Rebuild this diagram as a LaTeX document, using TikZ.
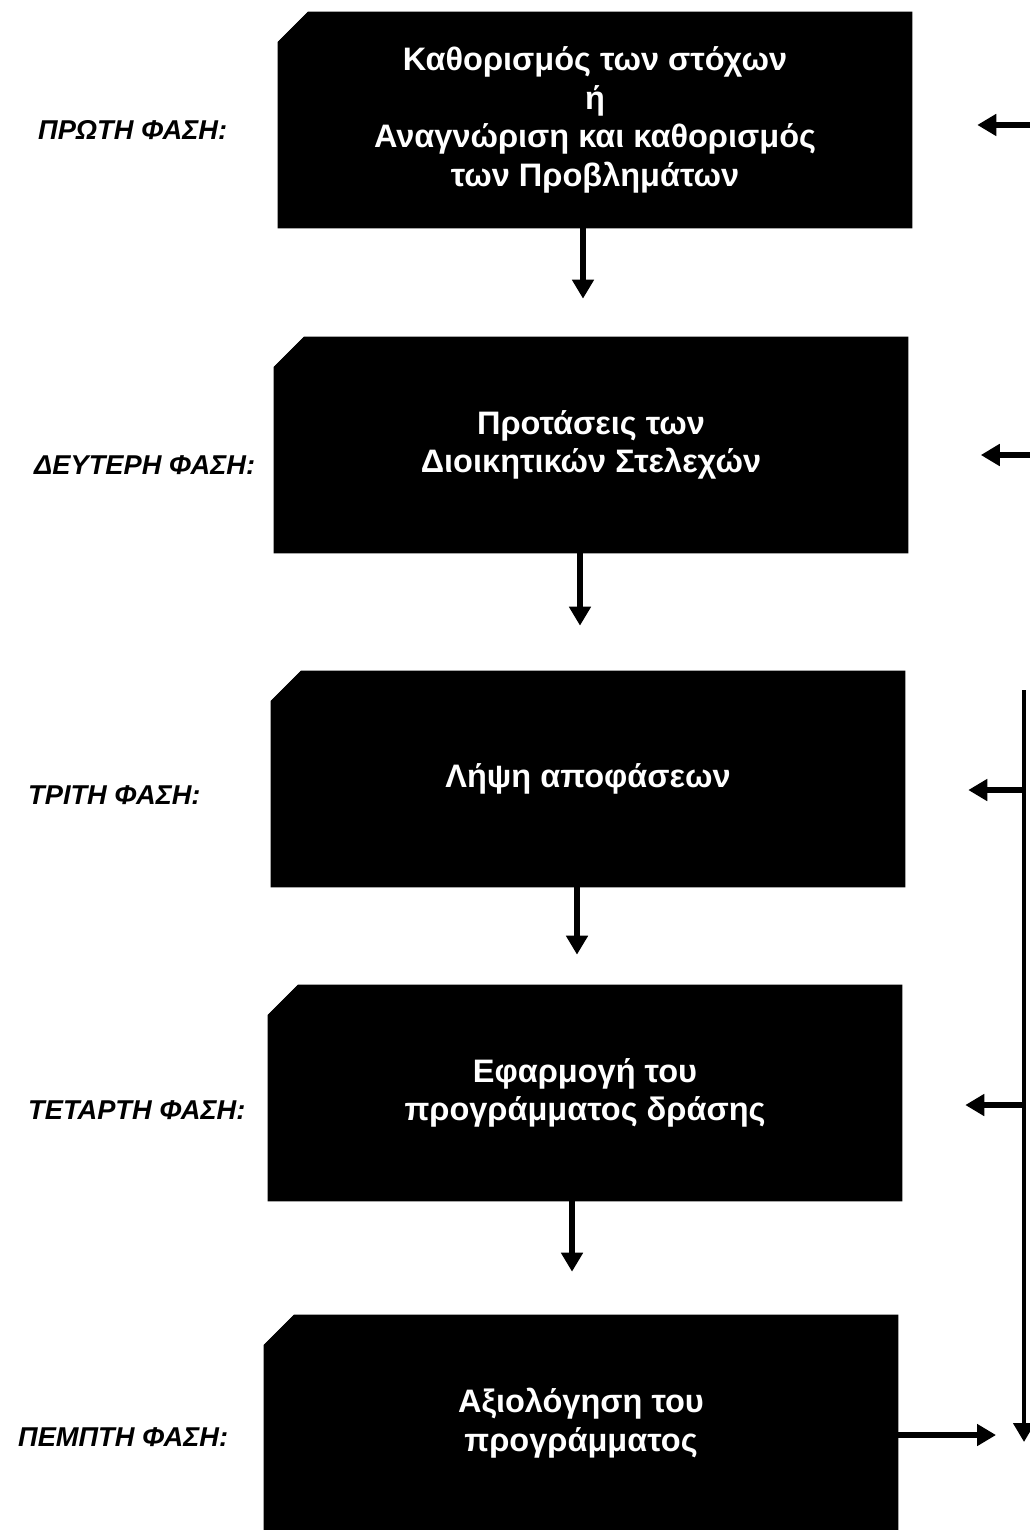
\documentclass[tikz,border=0pt]{standalone}
\usepackage{fontspec}
\setmainfont{Liberation Sans}
\usetikzlibrary{arrows.meta,shapes.misc}

\begin{document}
\begin{tikzpicture}[x=0.02cm,y=-0.02cm,
    phasebox/.style={chamfered rectangle, chamfered rectangle corners=north west,
      chamfered rectangle xsep=0.3cm, chamfered rectangle ysep=0.3cm,
      fill=black, draw=black, text=white, align=center, inner sep=0pt,
      minimum width=12.68cm, minimum height=4.32cm,
      font=\bfseries\fontsize{18.5}{22}\selectfont},
    phaselabel/.style={anchor=west, font=\bfseries\itshape\fontsize{15.5}{17}\selectfont},
    flow/.style={line width=3pt, -{Triangle[width=0.42cm,length=0.38cm]}}]
        \useasboundingbox (0,0) rectangle (1030,1530);
        % Phases
        \node[phasebox] (b1) at (595,120) {Καθορισμός των στόχων\\ή\\Αναγνώριση και καθορισμός\\των Προβλημάτων};
        \node[phasebox] (b2) at (591,445) {Προτάσεις των\\Διοικητικών Στελεχών};
        \node[phasebox] (b3) at (588,779) {Λήψη αποφάσεων};
        \node[phasebox] (b4) at (585,1093) {Εφαρμογή του\\προγράμματος δράσης};
        \node[phasebox] (b5) at (581,1423) {Αξιολόγηση του\\προγράμματος};
        % Labels
        \node[phaselabel] (l1) at (32,130) {ΠΡΩΤΗ ΦΑΣΗ:};
        \node[phaselabel] (l2) at (28,465) {ΔΕΥΤΕΡΗ ΦΑΣΗ:};
        \node[phaselabel] (l3) at (22,795) {ΤΡΙΤΗ ΦΑΣΗ:};
        \node[phaselabel] (l4) at (22,1110) {ΤΕΤΑΡΤΗ ΦΑΣΗ:};
        \node[phaselabel] (l5) at (12,1437) {ΠΕΜΠΤΗ ΦΑΣΗ:};
        % Down arrows
        \draw[flow, shorten >=0.76cm] ([xshift=-0.24cm]b1.south) -- ([xshift=-0.24cm]b1.south |- b2.north);
        \draw[flow, shorten >=0.9cm] ([xshift=-0.22cm]b2.south) -- ([xshift=-0.22cm]b2.south |- b3.north);
        \draw[flow, shorten >=0.6cm] ([xshift=-0.22cm]b3.south) -- ([xshift=-0.22cm]b3.south |- b4.north);
        \draw[flow, shorten >=0.86cm] ([xshift=-0.26cm]b4.south) -- ([xshift=-0.26cm]b4.south |- b5.north);
        % Feedback
        \coordinate (r1) at (1034,125);
        \coordinate (r2) at (1034,455);
        \coordinate (fbtop) at (1024,690);
        \coordinate (fbend) at (1024,1442);
        \coordinate (j3) at (1024,790);
        \coordinate (j4) at (1024,1105);
        \coordinate (t5) at (996,1435);
        \draw[flow, shorten >=1.3cm] (r1) -- (r1 -| b1.east);
        \draw[flow, shorten >=1.45cm] (r2) -- (r2 -| b2.east);
        \draw[line width=2.5pt, -{Triangle[width=0.42cm,length=0.38cm]}] (fbtop) -- (fbend);
        \draw[flow, shorten >=1.26cm] (j3) -- (j3 -| b3.east);
        \draw[flow, shorten >=1.26cm] (j4) -- (j4 -| b4.east);
        \draw[flow] (b5.east |- t5) -- (t5);
\end{tikzpicture}
\end{document}
